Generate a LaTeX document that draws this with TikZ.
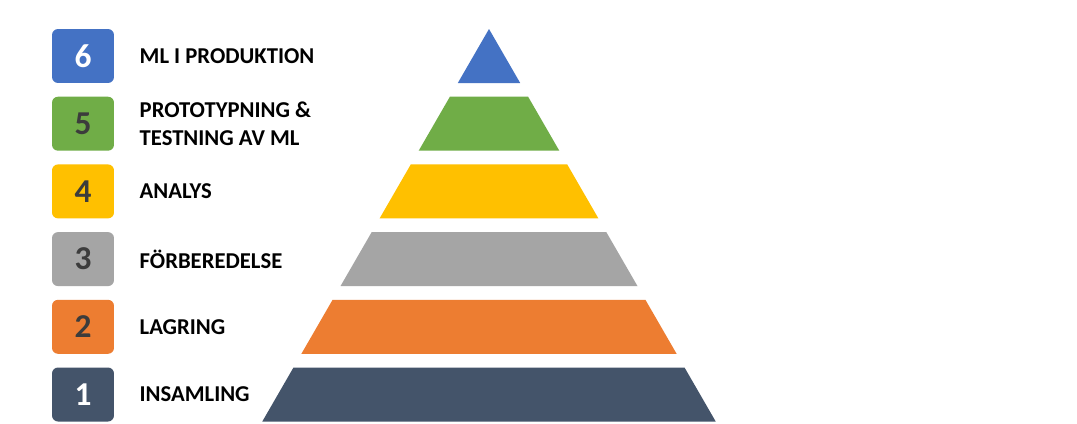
\documentclass[tikz,border=0pt]{standalone}
\usepackage{fontspec}
\setmainfont{Carlito}
\usetikzlibrary{positioning}

\definecolor{tierblue}{HTML}{4472C4}
\definecolor{tiergreen}{HTML}{70AD47}
\definecolor{tiergold}{HTML}{FFC000}
\definecolor{tiergrey}{HTML}{A5A5A5}
\definecolor{tierorange}{HTML}{ED7D31}
\definecolor{tierslate}{HTML}{44546A}
\definecolor{numdark}{HTML}{3C3C3C}

\tikzset{
  numbox/.style={rounded corners=0.12cm, minimum width=1.24cm, minimum height=1.08cm,
    inner sep=0pt, font=\bfseries\fontsize{19}{19}\selectfont},
  stagetext/.style={inner sep=0pt, anchor=west, align=left,
    font=\bfseries\fontsize{12.9}{16.4}\selectfont}
}

\begin{document}
\begin{tikzpicture}[x=0.02cm,y=-0.02cm]
	\useasboundingbox[fill=white] (0,0) rectangle (1077,423);

	% pyramid tiers, top to bottom
	\foreach \k/\col in {0/tierblue,1/tiergreen,2/tiergold,3/tiergrey,4/tierorange,5/tierslate}{
		\pgfmathsetmacro\ytop{29+67.7*\k}
		\pgfmathsetmacro\ybot{\ytop+54}
		\pgfmathsetmacro\wtop{(\ytop-29)*0.5776}
		\pgfmathsetmacro\wbot{(\ybot-29)*0.5776}
		\fill[\col] ({489-\wtop},\ytop) -- ({489+\wtop},\ytop) -- ({489+\wbot},\ybot) -- ({489-\wbot},\ybot) -- cycle;
	}

	% numbered boxes
	\foreach \n/\k/\col/\tc in {6/0/tierblue/white,5/1/tiergreen/numdark,4/2/tiergold/numdark,3/3/tiergrey/numdark,2/4/tierorange/numdark,1/5/tierslate/white}{
		\node[numbox, fill=\col, text=\tc] (b\n) at (83,{56+67.7*\k}) {\n};
	}

	% stage labels
	\node[stagetext, right=0.5cm of b6] (t6) {ML I PRODUKTION};
	\node[stagetext, right=0.5cm of b5] (t5) {PROTOTYPNING \&\\TESTNING AV ML};
	\node[stagetext, right=0.5cm of b4] (t4) {ANALYS};
	\node[stagetext, right=0.5cm of b3] (t3) {FÖRBEREDELSE};
	\node[stagetext, right=0.5cm of b2] (t2) {LAGRING};
	\node[stagetext, right=0.5cm of b1] (t1) {INSAMLING};
\end{tikzpicture}
\end{document}
